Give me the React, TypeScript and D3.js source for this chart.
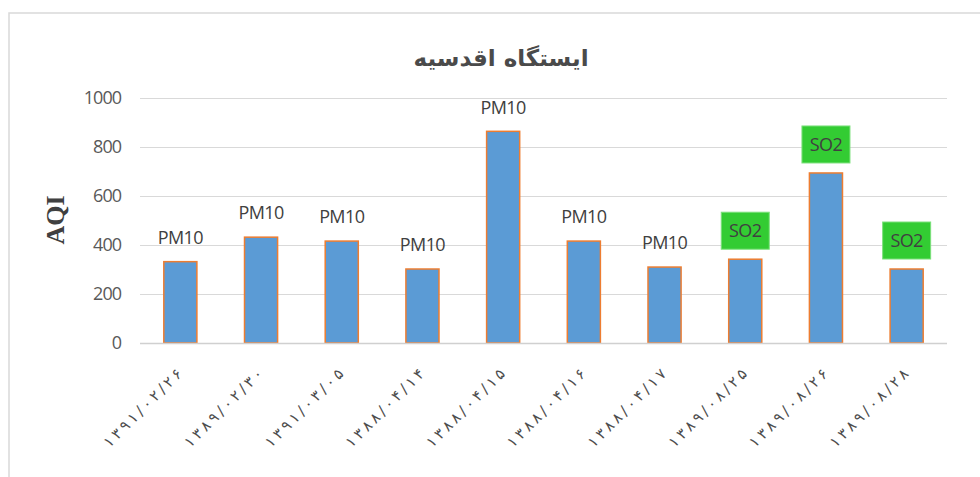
import { useEffect, useRef } from 'react'
import * as d3 from 'd3'

const dates = [
  '۱۳۹۱/۰۲/۲۶',
  '۱۳۸۹/۰۲/۳۰',
  '۱۳۹۱/۰۳/۰۵',
  '۱۳۸۸/۰۴/۱۴',
  '۱۳۸۸/۰۴/۱۵',
  '۱۳۸۸/۰۴/۱۶',
  '۱۳۸۸/۰۴/۱۷',
  '۱۳۸۹/۰۸/۲۵',
  '۱۳۸۹/۰۸/۲۶',
  '۱۳۸۹/۰۸/۲۸',
]
const aqi = [332, 432, 416, 302, 864, 416, 310, 342, 694, 302]
const pollutant = ['PM10', 'PM10', 'PM10', 'PM10', 'PM10', 'PM10', 'PM10', 'SO2', 'SO2', 'SO2']
const yTicks = [0, 200, 400, 600, 800, 1000]
const title = 'ایستگاه اقدسیه'

export default function App() {
  const svgRef = useRef<SVGSVGElement>(null)

  useEffect(() => {
    const svgEl = svgRef.current
    if (!svgEl) return
    const width = 980
    const height = 477
    const margin = { top: 98, right: 33, bottom: 134, left: 140 }
    const innerW = width - margin.left - margin.right
    const innerH = height - margin.top - margin.bottom

    const svg = d3.select(svgEl)
    svg.selectAll('*').remove()

    // chart frame
    svg.append('rect')
      .attr('x', 9).attr('y', 13)
      .attr('width', 1200).attr('height', 600)
      .style('fill', '#fff').style('stroke', '#d9d9d9').style('stroke-width', '1.5')

    const x = d3.scaleBand<number>().domain(d3.range(dates.length)).range([0, innerW]).paddingInner(0.59).paddingOuter(0.295)
    const y = d3.scaleLinear().domain([0, 1000]).range([innerH, 0])

    const g = svg.append('g').attr('transform', `translate(${margin.left},${margin.top})`)

    // Gridlines
    g.selectAll('.grid')
      .data(yTicks.filter(t => t > 0))
      .join('line')
      .attr('x1', 0).attr('x2', innerW)
      .attr('y1', d => y(d) + 0.5).attr('y2', d => y(d) + 0.5)
      .style('stroke', '#d9d9d9').style('stroke-width', '1')

    // Y tick labels
    g.selectAll('.ytick')
      .data(yTicks)
      .join('text')
      .attr('x', -19)
      .attr('y', d => y(d))
      .attr('dy', '0.35em')
      .attr('text-anchor', 'end')
      .style('fill', '#595959')
      .style('font-size', '18px')
      .style('font-family', '"Open Sans", sans-serif')
      .style('letter-spacing', '-1px')
      .text(d => d)

    // Bars
    g.selectAll('.bar')
      .data(aqi)
      .join('rect')
      .attr('x', (_, i) => x(i)!)
      .attr('y', d => y(d))
      .attr('width', x.bandwidth())
      .attr('height', d => innerH - y(d))
      .style('fill', '#5b9bd5')
      .style('stroke', '#ed7d31')
      .style('stroke-width', '1.5')

    // Baseline
    g.append('line')
      .attr('x1', 0).attr('x2', innerW)
      .attr('y1', innerH + 0.5).attr('y2', innerH + 0.5)
      .style('stroke', '#d0d0d0').style('stroke-width', '1.5')

    // Data labels
    aqi.forEach((v, i) => {
      const cx = x(i)! + x.bandwidth() / 2
      const isSO2 = pollutant[i] === 'SO2'
      if (isSO2) {
        g.append('rect')
          .attr('x', cx - 24)
          .attr('y', y(v) - 47)
          .attr('width', 48)
          .attr('height', 37)
          .style('fill', '#33cc33')
          .style('stroke', '#7be07b')
          .style('stroke-width', '1')
      }
      g.append('text')
        .attr('x', cx)
        .attr('y', isSO2 ? y(v) - 28.5 : y(v) - 24)
        .attr('dy', '0.35em')
        .attr('text-anchor', 'middle')
        .style('fill', '#404040')
        .style('font-size', '18px')
        .style('font-family', '"Open Sans", sans-serif')
        .style('letter-spacing', '-0.6px')
        .text(pollutant[i])
    })

    // X tick labels
    g.selectAll('.xtick')
      .data(dates)
      .join('text')
      .attr('transform', (_, i) => `translate(${x(i)! + x.bandwidth() / 2 - 1},${innerH + 28}) rotate(-45)`)
      .attr('text-anchor', 'end')
      .attr('direction', 'ltr')
      .attr('dy', '0.35em')
      .attr('textLength', 104)
      .attr('lengthAdjust', 'spacing')
      .style('fill', '#4d4d4d')
      .style('font-size', '15px')
      .style('font-family', '"DejaVu Sans", sans-serif')
      .text(d => d)

    // Y axis title
    svg.append('text')
      .attr('transform', `translate(55,220) rotate(-90)`)
      .attr('text-anchor', 'middle')
      .attr('dy', '0.35em')
      .style('fill', '#404040')
      .style('font-size', '26px')
      .style('font-weight', 'bold')
      .style('font-family', '"Liberation Serif", serif')
      .text('AQI')

    // Title
    svg.append('text')
      .attr('x', 501)
      .attr('y', 58)
      .attr('text-anchor', 'middle')
      .attr('dy', '0.35em')
      .attr('direction', 'rtl')
      .style('fill', '#4a4a4a')
      .style('font-size', '23px')
      .style('font-weight', 'bold')
      .style('font-family', '"DejaVu Sans", sans-serif')
      .text(title)
  }, [])

  return (
    <div style={{ position: 'absolute', left: 0, top: 0, width: 980, height: 477, overflow: 'hidden', background: '#fff' }}>
      <svg ref={svgRef} width={980} height={477} style={{ display: 'block' }} />
    </div>
  )
}
